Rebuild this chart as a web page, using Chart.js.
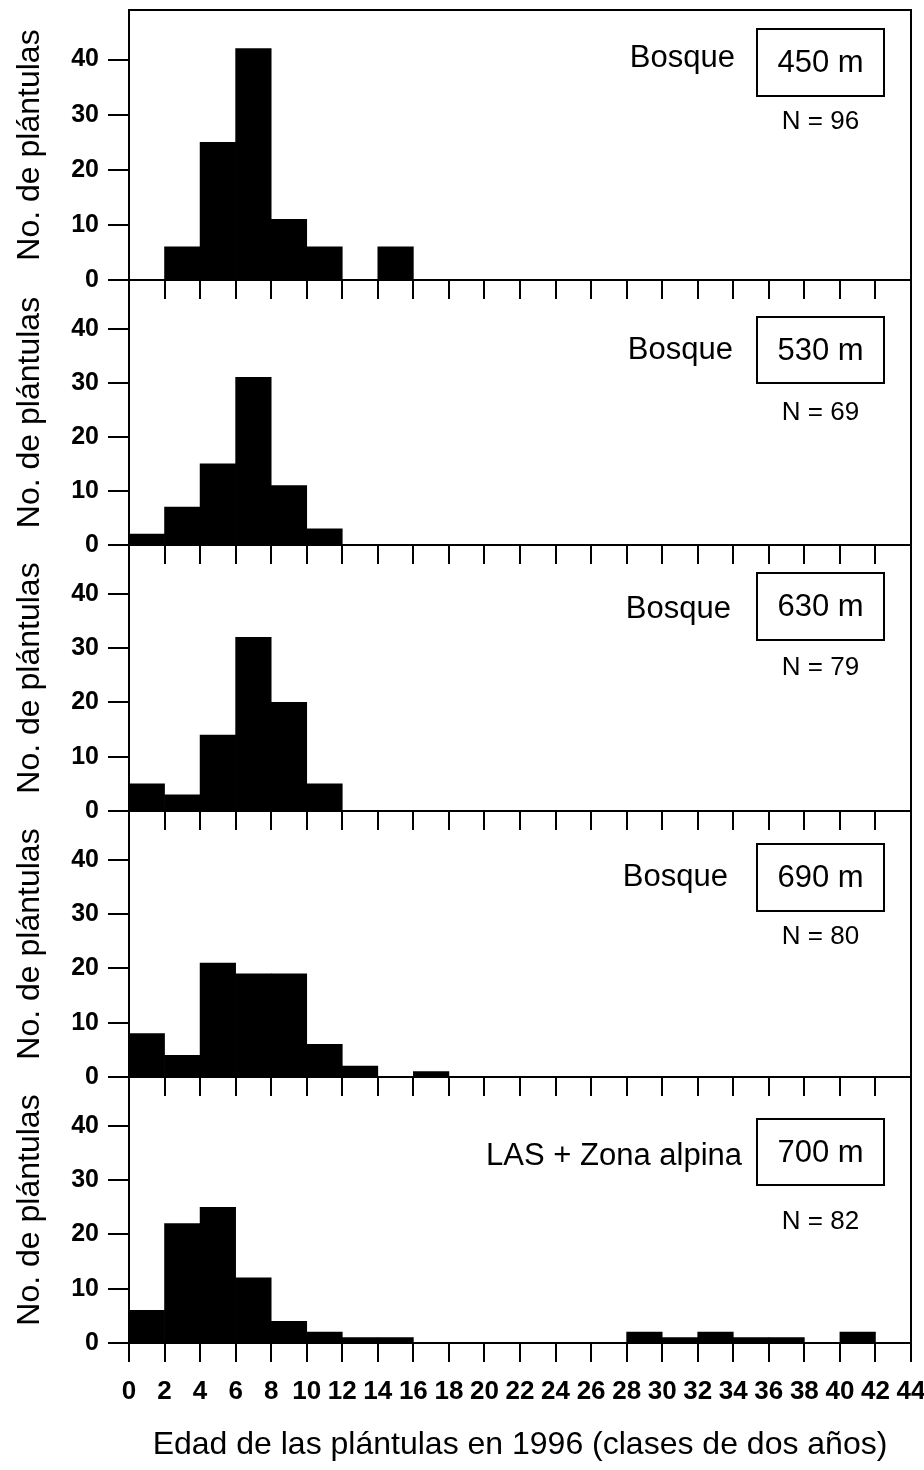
<!DOCTYPE html>
<html lang="es">
<head>
<meta charset="utf-8">
<title>Edad de las plántulas en 1996</title>
<script src="https://cdn.jsdelivr.net/npm/chart.js@4.4.1/dist/chart.umd.min.js"></script>
<style>
  html, body { margin: 0; padding: 0; background: #fff; overflow: hidden; }
  #wrap { position: relative; width: 924px; height: 1470px; }
  #wrap canvas { position: absolute; left: 0; }
</style>
</head>
<body>
<div id="wrap"></div>
<script>
// two-year age classes (lower bound of each class)
const AGE_CLASSES = [0, 2, 4, 6, 8, 10, 12, 14, 16, 18, 20, 22, 24, 26, 28, 30, 32, 34, 36, 38, 40, 42];

// seedlings per class, one list per altitude
const COUNTS_450 = [0, 6, 25, 42, 11, 6, 0, 6, 0, 0, 0, 0, 0, 0, 0, 0, 0, 0, 0, 0, 0, 0];
const COUNTS_530 = [2, 7, 15, 31, 11, 3, 0, 0, 0, 0, 0, 0, 0, 0, 0, 0, 0, 0, 0, 0, 0, 0];
const COUNTS_630 = [5, 3, 14, 32, 20, 5, 0, 0, 0, 0, 0, 0, 0, 0, 0, 0, 0, 0, 0, 0, 0, 0];
const COUNTS_690 = [8, 4, 21, 19, 19, 6, 2, 0, 1, 0, 0, 0, 0, 0, 0, 0, 0, 0, 0, 0, 0, 0];
const COUNTS_700 = [6, 22, 25, 12, 4, 2, 1, 1, 0, 0, 0, 0, 0, 0, 2, 1, 2, 1, 1, 0, 2, 0];

const SITES = ['Bosque', 'Bosque', 'Bosque', 'Bosque', 'LAS + Zona alpina'];
const ALTITUDES = ['450 m', '530 m', '630 m', '690 m', '700 m'];
const SERIES = [COUNTS_450, COUNTS_530, COUNTS_630, COUNTS_690, COUNTS_700];

const X_MIN = 0, X_MAX = 44, X_STEP = 2;
const Y_MAX = 49, Y_STEP = 10;

// page layout: plot top / zero line of each panel, and where the notes sit
// (note offsets are measured down from the top of the plot area)
const PANELS = [
  { top: 10,   base: 280,  box: [19, 86],  site: 48, siteRight: 735, n: 112 },
  { top: 280,  base: 545,  box: [37, 103], site: 70, siteRight: 733, n: 133 },
  { top: 545,  base: 811,  box: [28, 95],  site: 64, siteRight: 731, n: 123 },
  { top: 811,  base: 1077, box: [33, 100], site: 66, siteRight: 728, n: 126 },
  { top: 1077, base: 1343, box: [42, 108], site: 79, siteRight: 742, n: 145 }
];
const BOX_LEFT = 757, BOX_RIGHT = 884;
const PAGE_H = 1470, CANVAS_W = 928;
const PAD_TOP = 30, PAD_BOTTOM = 12, PAD_RIGHT = 17, AXIS_W = 129, TICK_X = 19;
const FONT = "'Liberation Sans', Arial, sans-serif";

Chart.defaults.font.family = FONT;
Chart.defaults.color = '#000';

// frame on the right (and on top of the first panel), altitude box and N
const panelNotes = {
  id: 'panelNotes',
  afterDraw(chart, _args, opts) {
    const { ctx, chartArea: a } = chart;
    const p = opts.panel;
    ctx.save();
    ctx.strokeStyle = '#000';
    ctx.lineWidth = 2;
    ctx.beginPath();
    ctx.moveTo(a.right, a.bottom);
    ctx.lineTo(a.right, a.top);
    if (opts.closeTop) ctx.lineTo(a.left, a.top);
    ctx.stroke();

    const bt = a.top + p.box[0], bb = a.top + p.box[1];
    ctx.strokeRect(BOX_LEFT, bt, BOX_RIGHT - BOX_LEFT, bb - bt);

    ctx.fillStyle = '#000';
    ctx.textBaseline = 'middle';
    ctx.font = '31px ' + FONT;
    ctx.textAlign = 'center';
    ctx.fillText(opts.altitude, (BOX_LEFT + BOX_RIGHT) / 2, (bt + bb) / 2 + 1);
    ctx.textAlign = 'right';
    ctx.fillText(opts.site, p.siteRight, a.top + p.site);

    ctx.font = '26px ' + FONT;
    ctx.textAlign = 'center';
    ctx.fillText('N = ' + opts.total, (BOX_LEFT + BOX_RIGHT) / 2, a.top + p.n);
    ctx.restore();
  }
};

function buildPanel(i) {
  const p = PANELS[i];
  const counts = SERIES[i];
  const last = i === PANELS.length - 1;
  const xAxisH = last ? PAGE_H - p.base : TICK_X + 1;
  const padBottom = last ? 0 : PAD_BOTTOM;
  const h = PAD_TOP + (p.base - p.top) + xAxisH + padBottom;

  const canvas = document.createElement('canvas');
  canvas.width = CANVAS_W;
  canvas.height = h;
  canvas.style.top = (p.top - PAD_TOP) + 'px';
  canvas.style.width = CANVAS_W + 'px';
  canvas.style.height = h + 'px';
  document.getElementById('wrap').appendChild(canvas);

  const total = counts.reduce((s, v) => s + v, 0);

  return new Chart(canvas, {
    type: 'bar',
    data: {
      datasets: [{
        data: AGE_CLASSES.map((c, k) => ({ x: c + X_STEP / 2, y: counts[k] })),
        backgroundColor: '#000',
        borderColor: '#000',
        borderWidth: 0,
        barPercentage: 1,
        categoryPercentage: 1
      }]
    },
    options: {
      responsive: false,
      animation: false,
      events: [],
      layout: { padding: { top: PAD_TOP, bottom: padBottom, left: 0, right: PAD_RIGHT } },
      scales: {
        x: {
          type: 'linear',
          min: X_MIN,
          max: X_MAX,
          offset: false,
          ticks: {
            stepSize: X_STEP,
            display: last,
            autoSkip: false,
            maxRotation: 0,
            padding: 14,
            font: { size: 26, weight: 'bold' },
            color: '#000'
          },
          grid: { offset: false, drawOnChartArea: false, drawTicks: true, tickLength: TICK_X, color: '#000', lineWidth: 2 },
          border: { display: true, color: '#000', width: 2 },
          title: {
            display: last,
            text: 'Edad de las plántulas en 1996 (clases de dos años)',
            font: { size: 32 },
            color: '#000',
            padding: { top: 0, bottom: 6 }
          },
          afterFit: s => {
            s.height = xAxisH;
            // let the end labels overhang instead of shrinking the plot
            s.paddingLeft = 0;
            s.paddingRight = 0;
          }
        },
        y: {
          min: 0,
          max: Y_MAX,
          ticks: { stepSize: Y_STEP, padding: 9, font: { size: 25, weight: 'bold' }, color: '#000' },
          afterBuildTicks: s => { s.ticks = s.ticks.filter(t => t.value % Y_STEP === 0); },
          grid: { drawOnChartArea: false, drawTicks: true, tickLength: 21, color: '#000', lineWidth: 2 },
          border: { display: true, color: '#000', width: 2 },
          title: {
            display: true,
            text: 'No. de plántulas',
            font: { size: 32 },
            color: '#000',
            padding: { top: 11, bottom: 0 }
          },
          afterFit: s => {
            s.width = AXIS_W;
            s.paddingTop = 0;
            s.paddingBottom = 0;
          }
        }
      },
      plugins: {
        legend: { display: false },
        tooltip: { enabled: false },
        panelNotes: {
          panel: p,
          closeTop: i === 0,
          site: SITES[i],
          altitude: ALTITUDES[i],
          total
        }
      }
    },
    plugins: [panelNotes]
  });
}

PANELS.forEach((_p, i) => buildPanel(i));
</script>
</body>
</html>
